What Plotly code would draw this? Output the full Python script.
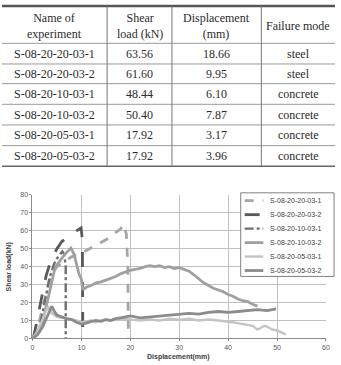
import plotly.graph_objects as go

W, H = 341, 365

# ---------------- table data ----------------
header = ["Name of<br>experiment", "Shear<br>load (kN)", "Displacement<br>(mm)", "Failure mode"]
names = ["S-08-20-20-03-1", "S-08-20-20-03-2", "S-08-20-10-03-1",
         "S-08-20-10-03-2", "S-08-20-05-03-1", "S-08-20-05-03-2"]
loads = ["63.56", "61.60", "48.44", "50.40", "17.92", "17.92"]
disps = ["18.66", "9.95", "6.10", "7.87", "3.17", "3.96"]
modes = ["steel", "steel", "concrete", "concrete", "concrete", "concrete"]

# ---------------- curve data ----------------
x_20_1 = [0, 0.5, 1, 1.5, 2, 2.5, 3, 3.5, 4, 5, 6, 7, 8, 9, 10, 11, 12, 13, 14, 15, 16, 17, 18, 18.66, 19.2, 19.5, 19.6]
y_20_1 = [0, 2, 5, 10, 16, 22, 28, 32, 36, 40, 42, 44, 45.5, 46.5, 47.5, 49, 50.5, 52, 53.5, 55, 57, 59, 61, 63.56, 58, 40, 0]

x_20_2 = [0, 0.4, 0.8, 1.2, 1.6, 2.0, 2.4, 2.8, 3.2, 3.6, 4.0, 4.5, 5.0, 5.5, 6.0, 6.5, 7.0, 7.5, 8.0, 8.5, 9.0, 9.5, 9.95, 10.2, 10.3, 10.3]
y_20_2 = [0, 3, 8, 14, 20, 25, 30, 35, 39, 42, 45, 48, 50, 52, 54, 55, 56.5, 57.5, 58.5, 59, 60, 61, 61.6, 55, 20, 0]

x_10_1 = [0, 0.5, 1, 1.5, 2, 2.5, 3, 3.5, 4, 4.5, 5, 5.5, 6.1, 6.5, 6.8, 6.8]
y_10_1 = [0, 1, 3, 7, 13, 20, 28, 34, 38, 42, 44.5, 46.5, 48.44, 47, 40, 0]

x_10_2 = [0, 0.5, 1, 1.5, 2, 2.5, 3, 3.5, 4, 4.5, 5, 5.5, 6, 6.5, 7, 7.87, 8.5, 9, 9.5, 10, 10.3,
          11, 12, 13, 14, 15, 16, 17, 18, 19, 20, 21, 22, 23, 24, 25, 26, 27, 28, 29, 30,
          31, 32, 33, 34, 35, 36, 37, 38, 39, 40, 41, 42, 43, 44, 45, 46]
y_10_2 = [0, 1, 2, 4, 8, 14, 20, 27, 33, 38, 41, 43, 45, 46.5, 48, 50.4, 47, 42, 36, 33, 27,
          28.5, 29.5, 31, 31.5, 32.5, 33.5, 34.5, 36, 37, 38, 38.5, 39, 40, 40.5, 40, 40.5, 39.5, 40, 39, 39.5,
          38.5, 37.5, 35.5, 33, 31, 29.5, 28, 27, 26, 24.5, 23.5, 22, 21, 20.5, 19, 18]

x_05_1 = [0, 0.5, 1, 1.5, 2, 2.5, 3, 3.17, 3.5, 4, 4.5, 5, 6, 7, 8, 9, 10, 11, 12, 13, 14, 15, 16, 17, 18, 19, 20,
          22, 24, 26, 28, 30, 32, 34, 36, 38, 40, 41, 42, 43, 44, 45, 46, 46.5, 47, 47.5, 48, 48.5, 49, 50, 51.8]
y_05_1 = [0, 2, 4, 7, 10, 13, 16, 17.92, 16, 14, 13, 12, 11.5, 11, 10.5, 10, 9, 9.5, 10, 9, 10, 10.5, 10, 11, 10.5, 11, 10.5,
          10, 10.5, 10, 11, 10.5, 11, 10, 10.5, 10, 9.5, 9, 8.5, 8, 7.5, 7, 5, 5.5, 6.5, 7, 6.5, 5.5, 5, 4.4, 2.2]

x_05_2 = [0, 0.5, 1, 1.5, 2, 2.5, 3, 3.5, 3.96, 4.5, 5, 5.5, 6, 7, 8, 9, 10, 11, 12, 13, 14, 15, 16, 17, 18, 19, 20,
          22, 24, 26, 28, 30, 32, 34, 36, 38, 40, 42, 44, 46, 48, 49.8]
y_05_2 = [0, 1, 2, 4, 6, 9, 12, 15, 17.92, 15, 13, 12.5, 12, 11, 10.5, 9, 8, 8.5, 9.5, 10, 9.5, 10.5, 10, 11, 11.5, 12, 12.5,
          11.5, 12, 12.5, 13, 13.5, 14, 13.5, 14.5, 15, 14.5, 15, 15.5, 16, 15.5, 16.5]

x_ticks = [0, 10, 20, 30, 40, 50, 60]
y_ticks = [0, 10, 20, 30, 40, 50, 60, 70, 80]


def X(px):
    return px / W


def Y(py):
    return 1 - py / H


fig = go.Figure()

series = [
    (names[0], x_20_1, y_20_1, "#a6a6a6", 2.8, "dash"),
    (names[1], x_20_2, y_20_2, "#595959", 2.8, "longdash"),
    (names[2], x_10_1, y_10_1, "#6e6e6e", 2.4, "dashdot"),
    (names[3], x_10_2, y_10_2, "#a0a0a0", 2.8, "solid"),
    (names[4], x_05_1, y_05_1, "#c4c4c4", 2.4, "solid"),
    (names[5], x_05_2, y_05_2, "#8c8c8c", 2.8, "solid"),
]
for nm, xs, ys, col, lw, dash in series:
    fig.add_trace(go.Scatter(x=xs, y=ys, mode="lines", name=nm, showlegend=False,
                             line=dict(color=col, width=lw, dash=dash)))

# ---------------- table (annotations + lines) ----------------
col_edges = [0, 107, 173, 264, 339]
row_lines = [41, 62, 82, 103, 124, 145, 166]
top_y = 3
tfont = dict(family="Liberation Serif", size=12, color="#2b2b2b")

shapes = []
shapes.append(dict(type="line", xref="paper", yref="paper", x0=X(0), x1=X(339), y0=Y(top_y), y1=Y(top_y),
                   line=dict(color="#555555", width=2.5)))
for i, ry in enumerate(row_lines):
    last = i == len(row_lines) - 1
    shapes.append(dict(type="line", xref="paper", yref="paper", x0=X(0), x1=X(339), y0=Y(ry), y1=Y(ry),
                       line=dict(color="#666666" if last else "#9a9a9a", width=1.5 if last else 1)))
for cx in col_edges[1:-1]:
    shapes.append(dict(type="line", xref="paper", yref="paper", x0=X(cx), x1=X(cx), y0=Y(top_y), y1=Y(row_lines[-1]),
                       line=dict(color="#777777", width=1)))

annotations = []
centers = [(col_edges[i] + col_edges[i + 1]) / 2 for i in range(4)]
for c, txt in zip(centers, header):
    annotations.append(dict(text=txt, x=X(c), y=Y((top_y + row_lines[0]) / 2 + 1), xref="paper", yref="paper",
                            showarrow=False, font=tfont, xanchor="center", yanchor="middle"))
columns = [names, loads, disps, modes]
for j, col in enumerate(columns):
    for i, txt in enumerate(col):
        cy = (row_lines[i] + row_lines[i + 1]) / 2
        annotations.append(dict(text=txt, x=X(centers[j]), y=Y(cy), xref="paper", yref="paper",
                                showarrow=False, font=tfont, xanchor="center", yanchor="middle"))

# axis titles
afont = dict(family="Liberation Sans", size=7, color="#404040")
annotations.append(dict(text="<b>Shear load(kN)</b>", x=X(7), y=Y(268), xref="paper", yref="paper",
                        showarrow=False, textangle=-90, font=afont, xanchor="center", yanchor="middle"))
annotations.append(dict(text="<b>Displacement(mm)</b>", x=X(180), y=Y(360), xref="paper", yref="paper",
                        showarrow=False, font=afont, xanchor="center", yanchor="middle"))

# ---------------- custom legend box ----------------
lg_x0, lg_x1, lg_y0, lg_y1 = 243, 338, 193, 278
shapes.append(dict(type="rect", xref="paper", yref="paper", x0=X(lg_x0), x1=X(lg_x1), y0=Y(lg_y1), y1=Y(lg_y0),
                   fillcolor="white", line=dict(color="#808080", width=1), layer="above"))
lfont = dict(family="Liberation Sans", size=7, color="#404040")
for i, (nm, xs, ys, col, lw, dash) in enumerate(series):
    ey = 201 + 14.2 * i
    shapes.append(dict(type="line", xref="paper", yref="paper", x0=X(247), x1=X(266), y0=Y(ey), y1=Y(ey),
                       line=dict(color=col, width=lw, dash=dash), layer="above"))
    annotations.append(dict(text=nm, x=X(271), y=Y(ey), xref="paper", yref="paper", showarrow=False,
                            font=lfont, xanchor="left", yanchor="middle"))

tick_font = dict(family="Liberation Sans", size=7, color="#595959")
fig.update_layout(
    width=W, height=H, margin=dict(l=0, r=0, t=0, b=0),
    paper_bgcolor="white", plot_bgcolor="white",
    shapes=shapes, annotations=annotations,
    xaxis=dict(domain=[X(31), X(330)], range=[0, 60.05], tickvals=x_ticks, ticktext=[str(v) for v in x_ticks],
               showgrid=True, gridcolor="#c0c0c0", gridwidth=1, zeroline=False,
               showline=True, linecolor="#8c8c8c", linewidth=1, ticks="outside", ticklen=2,
               tickcolor="#8c8c8c", tickfont=tick_font, anchor="y"),
    yaxis=dict(domain=[Y(341), Y(195)], range=[0, 80.1], tickvals=y_ticks, ticktext=[str(v) for v in y_ticks],
               showgrid=True, gridcolor="#c0c0c0", gridwidth=1, zeroline=False,
               showline=True, linecolor="#8c8c8c", linewidth=1, ticks="outside", ticklen=2,
               tickcolor="#8c8c8c", tickfont=tick_font, anchor="x"),
    showlegend=False,
)

fig.write_html("out.html")
